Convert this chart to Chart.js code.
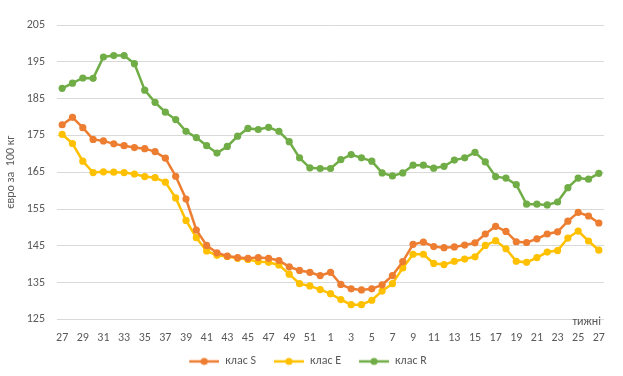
<!DOCTYPE html>
<html>
<head>
<meta charset="utf-8">
<script src="https://cdn.jsdelivr.net/npm/chart.js@4/dist/chart.umd.min.js"></script>
<style>
html,body{margin:0;padding:0;background:#fff;}
#wrap{width:623px;height:376px;position:relative;}
</style>
</head>
<body>
<div id="wrap"><canvas id="c" width="623" height="376"></canvas></div>
<script>
const weeks = [27,28,29,30,31,32,33,34,35,36,37,38,39,40,41,42,43,44,45,46,47,48,49,50,51,52,
               1,2,3,4,5,6,7,8,9,10,11,12,13,14,15,16,17,18,19,20,21,22,23,24,25,26,27];
const klasS = [177.9,179.9,177.1,173.9,173.5,172.7,172.2,171.7,171.4,170.6,
               168.8,163.9,157.7,149.3,145.1,143.1,142.2,141.8,141.6,141.8,
               141.6,141.0,139.3,138.3,137.8,136.9,137.8,134.5,133.3,133.0,
               133.3,134.4,136.9,140.7,145.4,146.0,144.8,144.5,144.7,145.2,
               145.8,148.2,150.3,148.9,146.1,145.9,146.9,148.2,148.8,151.7,
               154.1,153.1,151.2];
const klasE = [175.3,172.8,168.0,164.9,165.1,165.0,164.9,164.5,163.8,163.5,
               162.3,158.0,151.9,147.2,143.6,142.4,142.1,141.6,141.3,140.7,
               140.5,139.8,137.3,134.7,134.1,133.1,132.0,130.4,129.0,129.0,
               130.2,132.7,134.7,139.0,142.7,142.7,140.2,139.9,140.8,141.4,
               142.0,145.1,146.4,144.2,140.8,140.5,141.8,143.3,143.7,147.1,
               149.0,146.3,143.8];
const klasR = [187.8,189.2,190.6,190.5,196.3,196.7,196.7,194.5,187.3,184.0,
               181.3,179.3,176.1,174.4,172.2,170.2,172.0,174.8,176.9,176.6,
               177.2,176.1,173.3,168.9,166.2,166.0,166.0,168.4,169.8,168.9,
               168.0,164.8,164.0,164.8,166.9,166.9,166.1,166.6,168.3,168.9,
               170.4,167.8,163.8,163.4,161.6,156.3,156.3,156.1,156.9,160.8,
               163.4,163.1,164.7];
const seriesNames = ['клас S','клас E','клас R'];
const yTitle = 'євро за  100 кг';
const xTitle = 'тижні';

const colors = ['#ED7D31','#FFC000','#70AD47'];
const FONT = "Calibri, Carlito, Lato, 'Open Sans', sans-serif";
const TXT = '#595959';

function legendIcon(color){
  const cv = document.createElement('canvas');
  cv.width = 38; cv.height = 10;
  const g = cv.getContext('2d');
  g.strokeStyle = color; g.lineWidth = 2.5;
  g.beginPath(); g.moveTo(8,5); g.lineTo(38,5); g.stroke();
  g.fillStyle = color;
  g.beginPath(); g.arc(23,5,3.6,0,Math.PI*2); g.fill();
  return cv;
}
const icons = colors.map(legendIcon);

const xLabelPlugin = {
  id:'xLabel',
  afterDraw(chart){
    const {ctx, chartArea} = chart;
    ctx.save();
    ctx.font = '12px ' + FONT;
    ctx.fillStyle = TXT;
    ctx.textAlign = 'right';
    ctx.textBaseline = 'alphabetic';
    ctx.fillText(xTitle, chartArea.right - 3, chartArea.bottom + 6);
    ctx.restore();
  }
};

const ds = [klasS, klasE, klasR].map((d,i)=>({
  label: seriesNames[i],
  data: d,
  borderColor: colors[i],
  backgroundColor: colors[i],
  borderWidth: 2.5,
  pointRadius: 3.6,
  pointHoverRadius: 3.6,
  pointBorderWidth: 0,
  pointBackgroundColor: colors[i],
  tension: 0
}));

new Chart(document.getElementById('c'), {
  type:'line',
  data:{labels: weeks.map(String), datasets: ds},
  options:{
    responsive:false,
    animation:false,
    events:[],
    layout:{padding:{left:4,right:19,top:25,bottom:-1.4}},
    plugins:{
      legend:{
        position:'bottom',
        labels:{
          usePointStyle:true,
          pointStyleWidth:38,
          boxHeight:10,
          padding:10,
          color:TXT,
          font:{family:FONT,size:12},
          generateLabels(chart){
            const items = Chart.defaults.plugins.legend.labels.generateLabels(chart);
            items.forEach((it,i)=>{ it.pointStyle = icons[i]; });
            return items;
          }
        }
      },
      tooltip:{enabled:false}
    },
    scales:{
      x:{
        offset:true,
        grid:{display:false, drawTicks:false},
        border:{display:false},
        ticks:{
          autoSkip:false, maxRotation:0, minRotation:0,
          padding:11,
          color:TXT, font:{family:FONT,size:12},
          callback(v,i){ return i%2===0 ? weeks[i] : ''; }
        },
        afterFit(s){ s.height = 26; }
      },
      y:{
        min:125, max:205,
        grid:{color:'#D9D9D9', lineWidth:1, drawTicks:false},
        border:{display:false},
        ticks:{stepSize:10, padding:12, color:TXT, font:{family:FONT,size:12}},
        title:{display:true, text:yTitle, color:TXT, font:{family:FONT,size:12}, padding:{top:0,bottom:4}},
        afterFit(s){ s.width = 53; }
      }
    }
  },
  plugins:[xLabelPlugin]
});
</script>
</body>
</html>
